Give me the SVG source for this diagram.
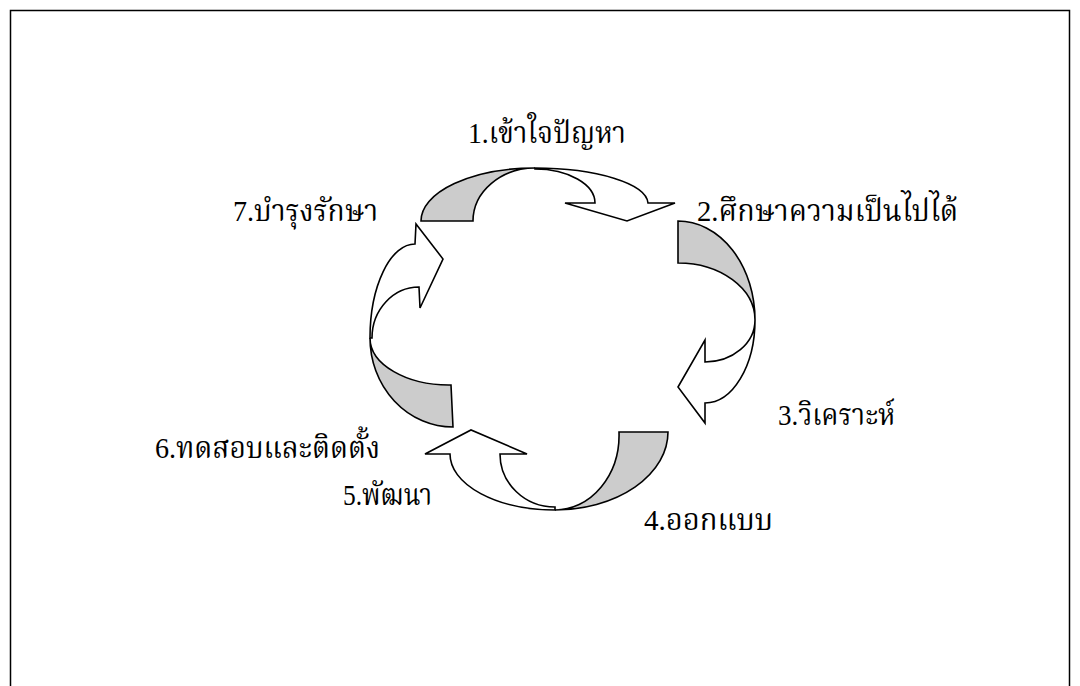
<svg xmlns="http://www.w3.org/2000/svg" width="1080" height="686" viewBox="0 0 1080 686">
<style>
.lbl{font-family:"Liberation Serif","Noto Serif Thai","Noto Sans Thai","DejaVu Serif",serif;font-size:30px;fill:#000}
.g{fill:#cccccc;stroke:#000;stroke-width:1.6;stroke-linejoin:miter}
.w{fill:#ffffff;stroke:#000;stroke-width:1.6;stroke-linejoin:miter}
</style>
<rect x="0" y="0" width="1080" height="686" fill="#fff"/>
<rect x="10.5" y="10.5" width="1059" height="700" fill="none" stroke="#000" stroke-width="1.5"/>
<g id="connectors">
  <g id="arrow-1-2">
    <path class="g" d="M421,221 A114,53 0 0 1 535,168 A62,53 0 0 0 473,221 Z"/>
    <path class="w" d="M535,168 A113,36 0 0 1 648,203 L675,203 L627,221 L565,203 L595,203 A60,34 0 0 0 535,169 Z"/>
  </g>
  <g id="arrow-2-3">
    <path class="g" d="M678,221 A77,99 0 0 1 755,320 A77,57 0 0 0 678,263 Z"/>
    <path class="w" d="M755,320 A50,83 0 0 1 705,403 L705,423 L678,387 L705,340 L705,362 A50,42 0 0 0 755,320 Z"/>
  </g>
  <g id="arrow-4-5">
    <path class="g" d="M668,432 A113,78 0 0 1 555,510 A64,75 0 0 0 619,432 Z"/>
    <path class="w" d="M555,510 A105,56 0 0 1 450,454 L425,454 L471,430 L527,454 L500,454 A55,53 0 0 0 555,507 Z"/>
  </g>
  <g id="arrow-6-7">
    <path class="g" d="M453,427 A83,89 0 0 1 370,338 A79,47 0 0 0 451,385 Z"/>
    <path class="w" d="M370,338 A45,94 0 0 1 415,244 L416,224 L443,259 L420,308 L419,287 A47,51 0 0 0 372,338 Z"/>
  </g>
</g>
<g id="n1"><text class="lbl" x="468" y="143" textLength="158" lengthAdjust="spacingAndGlyphs">1.เข้าใจปัญหา</text></g>
<g id="n2"><text class="lbl" x="697" y="221" textLength="261" lengthAdjust="spacingAndGlyphs">2.ศึกษาความเป็นไปได้</text></g>
<g id="n3"><text class="lbl" x="778" y="425" textLength="117" lengthAdjust="spacingAndGlyphs">3.วิเคราะห์</text></g>
<g id="n4"><text class="lbl" x="644" y="530" textLength="129" lengthAdjust="spacingAndGlyphs">4.ออกแบบ</text></g>
<g id="n5"><text class="lbl" x="343" y="505" textLength="89" lengthAdjust="spacingAndGlyphs">5.พัฒนา</text></g>
<g id="n6"><text class="lbl" x="155" y="458" textLength="225" lengthAdjust="spacingAndGlyphs">6.ทดสอบและติดตั้ง</text></g>
<g id="n7"><text class="lbl" x="233" y="221" textLength="145" lengthAdjust="spacingAndGlyphs">7.บำรุงรักษา</text></g>
</svg>
